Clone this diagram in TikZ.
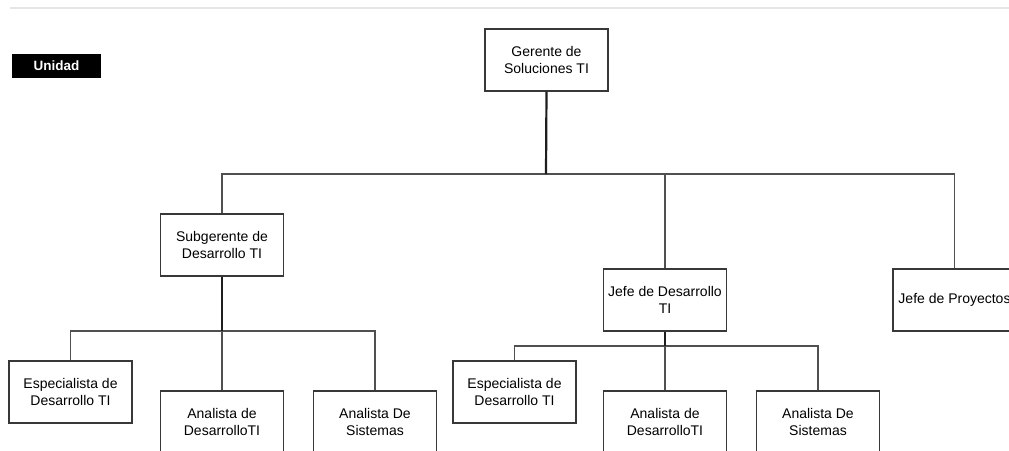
\documentclass[tikz,border=0pt]{standalone}
\usepackage{fontspec}
\setmainfont{Liberation Sans}
\definecolor{boxline}{HTML}{383838}
\definecolor{linkgray}{HTML}{505050}
\definecolor{linkdark}{HTML}{1E1E1E}
\definecolor{rulegray}{HTML}{E6E6E6}
\begin{document}
\begin{tikzpicture}[x=1pt,y=-1pt,
  box/.style={draw=boxline, line width=1.5pt, fill=white, minimum width=123pt,
    minimum height=62pt, align=center, inner sep=0pt,
    font=\fontsize{14}{16.8}\selectfont},
  link/.style={draw=linkgray, line width=1.6pt},
  trunk/.style={draw=linkdark, line width=2.2pt},
  tag/.style={fill=black, text=white, minimum width=89pt, minimum height=24pt,
    inner sep=0pt, font=\fontsize{13.5}{14}\selectfont\bfseries}]
\useasboundingbox (0,0) rectangle (1009,450);
\clip (0,0) rectangle (1009,450);

% page separator
\draw[rulegray, line width=1.5pt] (10,8) -- (1009,8);

% unit label
\node[tag] (unidad) at (56.5,66) {Unidad};

% bus junctions
\coordinate (busA) at (546,174);
\coordinate (busB) at (222,331);
\coordinate (busC) at (665,346);

% boxes
\node[box] (ger) at (546.5,60) {Gerente de\\Soluciones TI};
\node[box] (sub) at (222,245) {Subgerente de\\Desarrollo TI};
\node[box] (jd)  at (665,300) {Jefe de Desarrollo\\TI};
\node[box] (jp)  at (954.5,300) {Jefe de Proyectos};
\node[box] (esp1) at (70.5,392) {Especialista de\\Desarrollo TI};
\node[box] (ana1) at (222,422) {Analista de\\DesarrolloTI};
\node[box] (sis1) at (375,422) {Analista De\\Sistemas};
\node[box] (esp2) at (514.5,392) {Especialista de\\Desarrollo TI};
\node[box] (ana2) at (665,422) {Analista de\\DesarrolloTI};
\node[box] (sis2) at (818,422) {Analista De\\Sistemas};

% level 1
\draw[link] (sub.north) |- (busA);
\draw[link] (jp.north) |- (busA);
\draw[link] (jd.north) -- (jd.north |- busA);
\draw[trunk] (ger.south) -- (busA);

% level 2, under Subgerente
\draw[link] (esp1.north) |- (busB);
\draw[link] (sis1.north) |- (busB);
\draw[link] (ana1.north) -- (busB);
\draw[trunk] (sub.south) -- (busB);

% level 2, under Jefe de Desarrollo
\draw[link] (esp2.north) |- (busC);
\draw[link] (sis2.north) |- (busC);
\draw[link] (ana2.north) -- (busC);
\draw[trunk] (jd.south) -- (busC);
\end{tikzpicture}
\end{document}
